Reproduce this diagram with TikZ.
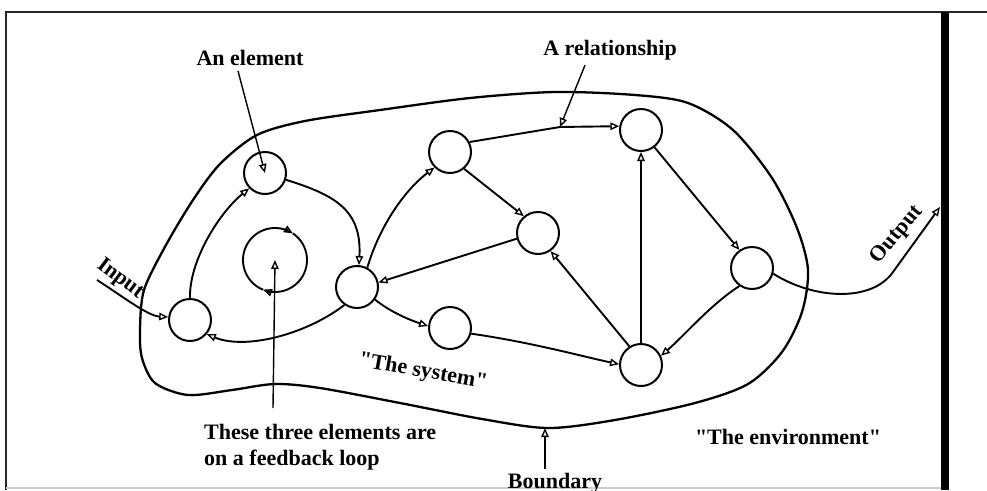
\documentclass[tikz,border=0pt]{standalone}
\usepackage{fontspec}
\setmainfont{Liberation Serif}[Ligatures=TeXOff]
\usetikzlibrary{arrows.meta}

\begin{document}
\begin{tikzpicture}[x=1pt,y=-1pt,
  elem/.style={circle,draw,line width=2pt,minimum size=42pt,inner sep=0pt},
  tip/.style={-{Triangle[open,length=9pt,width=7.5pt,line width=1.4pt]}},
  link/.style={line width=1.9pt,tip},
  ptr/.style={line width=1.4pt,tip},
  lbl/.style={font=\fontsize{22}{26}\selectfont\bfseries,inner sep=0pt},
  bound/.style={line width=2.3pt}]
\useasboundingbox (0,0) rectangle (987,490);

% page frame
\draw[line width=2pt,black!85] (6,490) -- (6,12) -- (987,12);
\draw[line width=8pt] (945,12) -- (945,490);
\draw[line width=1.5pt,black!20] (6,488) -- (941,488);

% elements
\node[elem] (el)  at (265,173) {};
\node[elem] (inC) at (190,320) {};
\node[elem] (cL)  at (357,287) {};
\node[elem] (tp)  at (450,152) {};
\node[elem] (md)  at (538,233) {};
\node[elem] (tr)  at (641,130) {};
\node[elem] (rt)  at (752,268) {};
\node[elem] (bt)  at (641,365) {};
\node[elem] (lm)  at (450,328) {};

% system boundary
\draw[bound] plot[smooth cycle] coordinates {
  (140,330) (144,290) (166,245) (193,200) (220,164) (257,135) (305,121)
  (380,110) (470,98) (555,92) (635,95) (688,103) (733,130) (772,178)
  (797,228) (808,270) (802,312) (782,352) (748,384) (695,403) (615,420)
  (548,428) (482,419) (400,403) (320,388) (275,384) (232,390) (188,395)
  (155,383) (142,358)};

% feedback loop
\coordinate (loopc) at (275,260);
\draw[link] plot[domain=112:304,samples=40] ({275+32*cos(\x)},{260+32*sin(\x)});
\draw[link] plot[domain=-56:112,samples=40] ({275+32*cos(\x)},{260+32*sin(\x)});

% relationships
\coordinate (inS) at (97,280);
\draw[link] (inS) .. controls (125,298) and (148,316) .. (inC.172);
\draw[link] (inC.north) .. controls (189,262) and (218,214) .. (el.224);
\draw[link] (el.-18) .. controls (335,195) and (362,210) .. (cL.85);
\draw[link] (cL.235) .. controls (305,335) and (245,350) .. (inC.-40);
\draw[link] (cL.62) .. controls (380,225) and (405,190) .. (tp.225);
\coordinate (rel) at (560,127);
\draw[link] (tp.27) -- (rel) -- (tr.170);
\draw[link] (tp.-50) -- (md.130);
\draw[link] (md.195) -- (cL.12);
\draw[link] (cL.-35) .. controls (392,313) and (410,320) .. (lm.175);
\draw[link] (lm.-15) .. controls (530,342) and (585,357) .. (bt.178);
\draw[link] (bt.122) -- (md.-55);
\draw[link,line width=1.4pt] (bt.north) -- (tr.south);
\draw[link] (tr.-52) -- (rt.125);
\draw[link] (rt.235) .. controls (710,305) and (685,335) .. (bt.25);
\coordinate (outE) at (940,207);
\draw[link] (rt.-15) .. controls (815,300) and (872,302) .. (893,272) -- (outE);

% labels
\node[lbl] (lEl) at (250,58) {An element};
\draw[ptr] ([xshift=-12pt,yshift=-5pt]lEl.south) -- (el.center);
\node[lbl] (lRel) at (610,50) {A relationship};
\draw[ptr] ([xshift=-25pt,yshift=-5pt]lRel.south) -- (rel);
\node[lbl,rotate=-37] (lIn) at (120,279) {Input};
\node[lbl,rotate=50] (lOut) at (897,235) {Output};
\node[lbl,rotate=-10] (lSys) at (423,372) {"The system"};
\node[lbl] (lEnv) at (788,437) {"The environment"};
\node[lbl,align=left,anchor=north west] (lFb) at (204,424) {These three elements are\\on a feedback loop};
\coordinate (fbTop) at (273,408);
\draw[ptr] (fbTop) -- (loopc);
\node[lbl,anchor=base] (lBd) at (555,488) {Boundary};
\coordinate (bnd) at (545,428);
\draw[ptr] ([xshift=-10pt,yshift=4pt]lBd.north) -- (bnd);
\end{tikzpicture}
\end{document}
